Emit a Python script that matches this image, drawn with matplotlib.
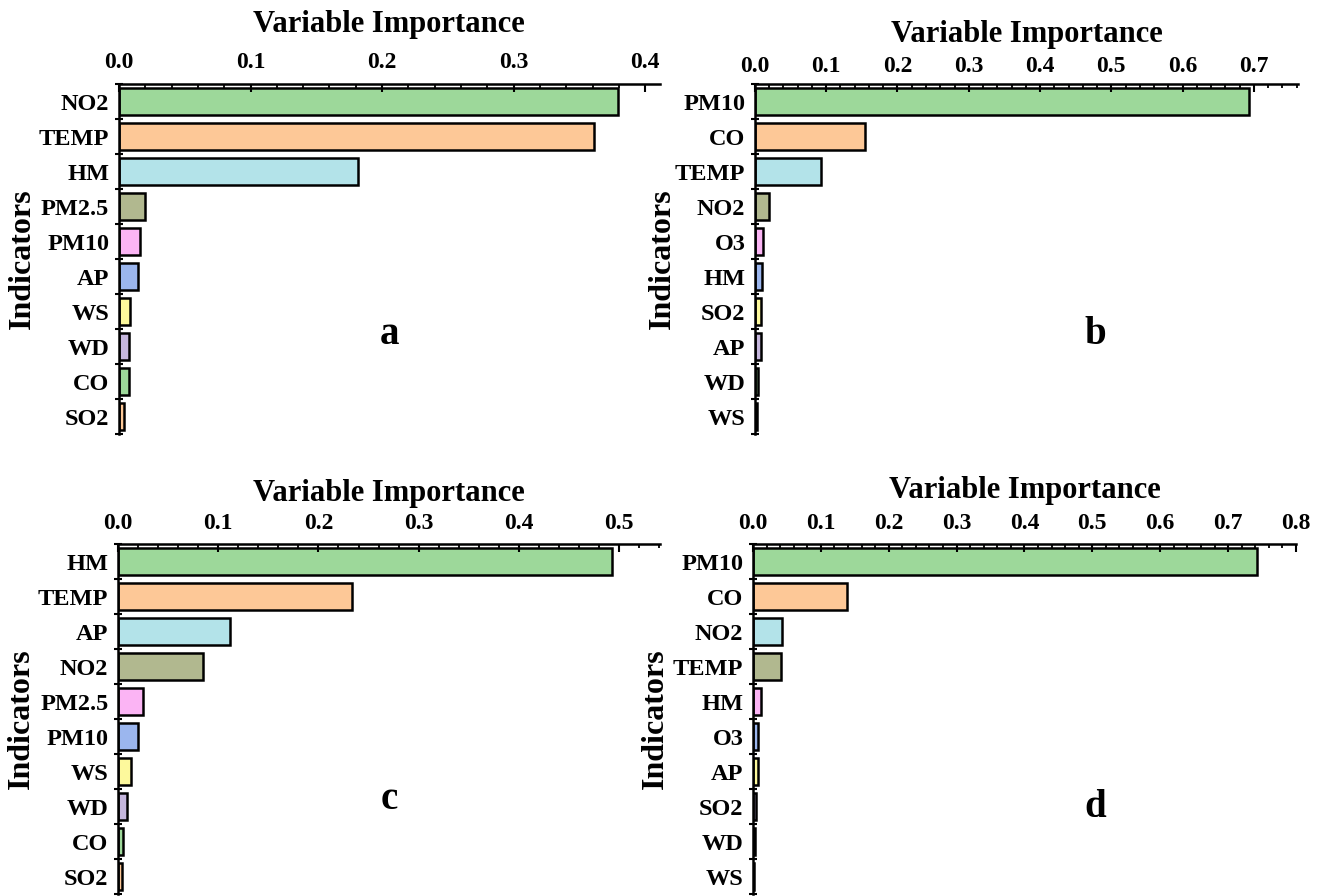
'''
Variable importance bar charts for four models (panels a-d).
Horizontal bars sorted by importance, axis on top, indicators on the left.
'''

import matplotlib
matplotlib.use('Agg')
import matplotlib.pyplot as plt
from matplotlib.ticker import MultipleLocator, FixedLocator

plt.rcParams['font.family'] = ['Liberation Serif', 'DejaVu Serif']
plt.rcParams['font.weight'] = 'bold'

# Indicators and importance values for each panel
labels_a = ['NO2', 'TEMP', 'HM', 'PM2.5', 'PM10', 'AP', 'WS', 'WD', 'CO', 'SO2']
values_a = [0.379, 0.361, 0.182, 0.020, 0.016, 0.0146, 0.0086, 0.0078, 0.0073, 0.0038]

labels_b = ['PM10', 'CO', 'TEMP', 'NO2', 'O3', 'HM', 'SO2', 'AP', 'WD', 'WS']
values_b = [0.693, 0.154, 0.093, 0.020, 0.0112, 0.0102, 0.0085, 0.0084, 0.0040, 0.0025]

labels_c = ['HM', 'TEMP', 'AP', 'NO2', 'PM2.5', 'PM10', 'WS', 'WD', 'CO', 'SO2']
values_c = [0.493, 0.234, 0.112, 0.085, 0.0247, 0.020, 0.0132, 0.0093, 0.0053, 0.0038]

labels_d = ['PM10', 'CO', 'NO2', 'TEMP', 'HM', 'O3', 'AP', 'SO2', 'WD', 'WS']
values_d = [0.742, 0.138, 0.043, 0.041, 0.0115, 0.0076, 0.0075, 0.0045, 0.0022, 0.0013]

# Same colour order in every panel (by rank)
bar_colors = ['#9dd89a', '#fdc897', '#b3e3e9', '#b1b88f', '#fbb4f4',
              '#9bb6ee', '#fdf99c', '#c5b6dd', '#9dd89a', '#fdc897']

x_max = {'a': 0.411, 'b': 0.762, 'c': 0.541, 'd': 0.80}

# Axes positions [left, bottom, width, height] in figure fraction
positions = {
    'a': [0.090, 0.5156, 0.409, 0.3906],
    'b': [0.5711, 0.5156, 0.4107, 0.3906],
    'c': [0.0893, 0.0022, 0.4100, 0.3906],
    'd': [0.5696, 0.0022, 0.4107, 0.3906],
}
letter_pos = {'a': (0.50, 0.283), 'b': (0.626, 0.283), 'c': (0.50, 0.27), 'd': (0.63, 0.246)}
ylabel_x = {'a': -0.152, 'b': -0.143, 'c': -0.152, 'd': -0.153}
tick_pad = {'a': 8, 'b': 5, 'c': 7, 'd': 7}
title_pad = {'a': 14, 'b': 10, 'c': 9, 'd': 11}

panels = {
    'a': (labels_a, values_a),
    'b': (labels_b, values_b),
    'c': (labels_c, values_c),
    'd': (labels_d, values_d),
}

fig = plt.figure(figsize=(13.22, 8.96), dpi=100)

for key, (labels, values) in panels.items():
    ax = fig.add_axes(positions[key])
    ypos = list(range(len(labels)))
    ax.barh(ypos, values, height=0.78, color=bar_colors[:len(labels)],
            edgecolor='black', linewidth=1.8)

    ax.set_ylim(len(labels) - 0.5, -0.5)
    ax.set_xlim(0, x_max[key])

    # x axis on top
    ax.xaxis.set_ticks_position('top')
    ax.xaxis.set_label_position('top')
    ax.xaxis.set_major_locator(MultipleLocator(0.1))
    ax.xaxis.set_minor_locator(MultipleLocator(0.02))
    ax.xaxis.set_major_formatter(plt.FuncFormatter(lambda v, p: '%.1f' % v))
    ax.tick_params(axis='x', which='major', direction='in', length=6, width=1.5,
                   labelsize=17, pad=tick_pad[key])
    ax.tick_params(axis='x', which='minor', direction='in', length=3, width=1.3)
    ax.set_xlabel('Variable Importance', fontsize=22, fontweight='bold',
                  labelpad=title_pad[key])

    # y axis: labels at category centres, small ticks at boundaries
    ax.set_yticks(ypos)
    ax.set_yticklabels(labels)
    ax.yaxis.set_minor_locator(FixedLocator([i - 0.5 for i in range(len(labels) + 1)]))
    ax.tick_params(axis='y', which='major', length=0, labelsize=17.5, pad=7)
    ax.tick_params(axis='y', which='minor', direction='inout', length=6, width=1.5)
    ax.set_ylabel('Indicators', fontsize=23, fontweight='bold')
    ax.yaxis.set_label_coords(ylabel_x[key], 0.5)

    for s in ['right', 'bottom']:
        ax.spines[s].set_visible(False)
    for s in ['top', 'left']:
        ax.spines[s].set_linewidth(1.8)

    ax.text(letter_pos[key][0], letter_pos[key][1], key, transform=ax.transAxes,
            fontsize=28, fontweight='bold', ha='center', va='center')

fig.savefig('out.png', dpi=100)
